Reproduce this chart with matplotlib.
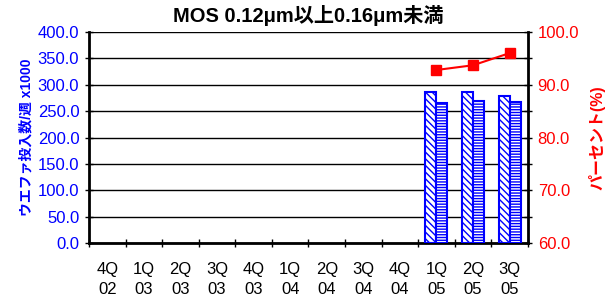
import matplotlib
matplotlib.use("Agg")
import matplotlib.pyplot as plt
import numpy as np

plt.rcParams['font.family'] = ['Liberation Sans', 'Noto Sans CJK JP', 'DejaVu Sans']
plt.rcParams['hatch.linewidth'] = 1.0

categories = ["4Q\n02", "1Q\n03", "2Q\n03", "3Q\n03", "4Q\n03", "1Q\n04", "2Q\n04",
              "3Q\n04", "4Q\n04", "1Q\n05", "2Q\n05", "3Q\n05"]
bar1 = [None, None, None, None, None, None, None, None, None, 286.0, 286.0, 278.0]
bar2 = [None, None, None, None, None, None, None, None, None, 265.0, 269.0, 267.0]
pct = [None, None, None, None, None, None, None, None, None, 92.8, 93.7, 96.0]

blue = "#0000FF"
red = "#FF0000"

fig = plt.figure(figsize=(6.11, 2.97), dpi=100)
ax = fig.add_axes([0.1457, 0.1818, 0.7183, 0.7104])

x = np.arange(len(categories))
w = 0.3
b1x = [xi - w / 2 for xi, v in zip(x, bar1) if v is not None]
b1v = [v for v in bar1 if v is not None]
b2x = [xi + w / 2 for xi, v in zip(x, bar2) if v is not None]
b2v = [v for v in bar2 if v is not None]
ax.bar(b1x, b1v, width=w, facecolor="white", edgecolor=blue, hatch="\\\\\\\\\\", linewidth=1.5, zorder=3)
ax.bar(b2x, b2v, width=w, facecolor="white", edgecolor=blue, hatch="------", linewidth=1.5, zorder=3)

ax.set_xlim(-0.5, len(categories) - 0.5)
ax.set_ylim(0, 400)
ax.set_yticks(np.arange(0, 401, 50))
ax.set_yticklabels([f"{v:.1f}" for v in np.arange(0, 401, 50)], color=blue, fontsize=12)
ax.yaxis.grid(True, color="black", linewidth=1.0, zorder=0)
ax.set_axisbelow(True)
ax.set_xticks(x)
ax.set_xticklabels(categories, fontsize=12, linespacing=1.35)
ax.set_xticks(np.arange(-0.5, len(categories), 1), minor=True)
ax.tick_params(axis='x', which='major', length=0, pad=14)
ax.tick_params(axis='x', which='minor', length=6, direction='inout', width=1)
ax.tick_params(axis='y', length=6, direction='inout', width=1, pad=4)
for s in ['left', 'bottom']:
    ax.spines[s].set_linewidth(2)
ax.spines['top'].set_visible(False)
ax.spines['right'].set_visible(False)
ax.set_ylabel("ウエファ投入数/週 x1000", color=blue, fontsize=10, fontweight='bold', labelpad=3)

ax2 = ax.twinx()
px = [xi for xi, v in zip(x, pct) if v is not None]
pv = [v for v in pct if v is not None]
ax2.plot(px, pv, color=red, marker='s', markersize=7, linewidth=1.5, zorder=4)
ax2.set_ylim(60, 100)
ax2.set_yticks(np.arange(60, 101, 10))
ax2.set_yticklabels([f"{v:.1f}" for v in np.arange(60, 101, 10)], color=red, fontsize=12)
ax2.set_yticks(np.arange(60, 101, 5), minor=True)
ax2.tick_params(axis='y', which='both', length=6, direction='inout', width=1, pad=4)
ax2.spines['right'].set_linewidth(2)
ax2.spines['top'].set_visible(False)
ax2.spines['left'].set_visible(False)
ax2.spines['bottom'].set_visible(False)
ax2.set_ylabel("パーセント(%)", color=red, fontsize=11.5, fontweight='bold', rotation=90, labelpad=7)

ax.set_title("MOS 0.12μm以上0.16μm未満", fontsize=14.5, fontweight='bold', pad=7)

fig.savefig("out.png", dpi=100)
